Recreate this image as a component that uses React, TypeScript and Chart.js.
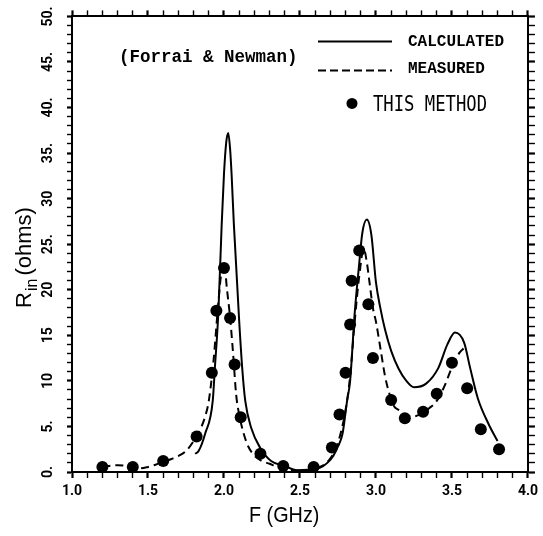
import React, { useEffect, useRef } from "react";
import { Chart, registerables } from "chart.js";

Chart.register(...registerables);

// ---- data ----
const calcF = [1.81, 1.833, 1.876, 1.926, 1.94, 1.963, 1.985, 2.0, 2.015, 2.028, 2.04, 2.05, 2.065, 2.1, 2.12, 2.14, 2.18, 2.24, 2.31, 2.4, 2.48, 2.55, 2.63, 2.68, 2.72, 2.75, 2.78, 2.81, 2.83, 2.86, 2.89, 2.91, 2.94, 2.97, 3.0, 3.03, 3.06, 3.1, 3.15, 3.2, 3.25, 3.33, 3.41, 3.47, 3.52, 3.58, 3.62, 3.67, 3.74, 3.8];
const calcR = [2.0, 2.3, 4.2, 7.8, 11.4, 17.5, 27.2, 32.7, 36.2, 37.2, 35.5, 32.7, 27.2, 16.6, 11.4, 7.8, 4.8, 2.6, 1.2, 0.65, 0.2, 0.25, 0.45, 1.0, 1.8, 2.8, 4.2, 7.8, 10.0, 17.4, 22.9, 26.2, 27.7, 26.0, 20.8, 17.9, 15.6, 13.3, 11.3, 10.0, 9.3, 9.7, 11.4, 14.0, 15.3, 14.2, 11.4, 8.1, 5.3, 3.4];

const measF = [1.2, 1.3, 1.4, 1.45, 1.5, 1.55, 1.6, 1.65, 1.7, 1.75, 1.8, 1.85, 1.88, 1.9, 1.93, 1.96, 1.98, 2.0, 2.02, 2.04, 2.06, 2.08, 2.1, 2.13, 2.16, 2.2, 2.25, 2.3, 2.35, 2.4, 2.45, 2.5, 2.55, 2.6, 2.65, 2.7, 2.75, 2.8, 2.83, 2.86, 2.89, 2.92, 2.94, 2.96, 2.98, 3.0, 3.03, 3.06, 3.09, 3.12, 3.15, 3.2, 3.25, 3.3, 3.35, 3.4, 3.45, 3.5, 3.55, 3.58];
const measR = [0.6, 0.75, 0.55, 0.4, 0.55, 0.8, 1.1, 1.4, 1.75, 2.3, 3.4, 4.9, 6.3, 7.8, 12, 18, 21.5, 23, 20, 17, 13, 8.5, 6.3, 4.2, 2.8, 1.8, 1.2, 0.9, 0.55, 0.35, 0.2, 0.15, 0.2, 0.4, 0.7, 1.5, 3.2, 6.8, 10.5, 16.5, 21.5, 24.5, 23, 20.5, 18, 16.5, 13.5, 10.5, 8.5, 7.2, 6.8, 6.2, 6.1, 6.4, 7.0, 7.8, 9.4, 11.5, 13.1, 13.6];

const dotF = [1.2, 1.4, 1.6, 1.82, 1.92, 1.95, 2.0, 2.04, 2.07, 2.11, 2.24, 2.39, 2.59, 2.71, 2.76, 2.8, 2.83, 2.84, 2.89, 2.95, 2.98, 3.1, 3.19, 3.31, 3.4, 3.5, 3.6, 3.69, 3.81];
const dotR = [0.55, 0.55, 1.2, 3.9, 10.9, 17.7, 22.4, 16.9, 11.8, 6.0, 2.0, 0.65, 0.55, 2.7, 6.3, 10.9, 16.2, 21.0, 24.3, 18.4, 12.5, 7.9, 5.9, 6.6, 8.6, 12.0, 9.2, 4.7, 2.5];

const xTickLabels = ["1.0", "1.5", "2.0", "2.5", "3.0", "3.5", "4.0"];
const yTickLabels = ["0.", "5.", "10", "15", "20", "25.", "30", "35.", "40.", "45.", "50."];
const legendLabels = ["CALCULATED", "MEASURED", "THIS METHOD"];
const noteText = "(Forrai & Newman)";
const xTitle = "F (GHz)";
const yTitleMain = "R";
const yTitleSub = "in";
const yTitleRest = "(ohms)";

const toXY = (xs: number[], ys: number[]) => xs.map((x, i) => ({ x, y: ys[i] }));

function drawText(ctx: CanvasRenderingContext2D, text: string, x: number, y: number, font: string, sx = 1) {
  ctx.save();
  ctx.translate(x, y);
  ctx.scale(sx, 1);
  ctx.font = font;
  ctx.textAlign = "left";
  ctx.textBaseline = "middle";
  ctx.fillStyle = "#000";
  ctx.fillText(text, 0, 0);
  ctx.restore();
}

const annotPlugin = {
  id: "annot",
  afterDraw(chart: any) {
    const ctx: CanvasRenderingContext2D = chart.ctx;
    const ca = chart.chartArea;
    const L = ca.left;
    const T = ca.top;
    ctx.save();
    // note
    drawText(ctx, noteText, L + 47, T + 41, "bold 17.5px 'Liberation Mono'");
    // legend: solid
    ctx.strokeStyle = "#000";
    ctx.lineWidth = 2;
    ctx.beginPath();
    ctx.moveTo(L + 246, T + 25);
    ctx.lineTo(L + 320, T + 25);
    ctx.stroke();
    drawText(ctx, legendLabels[0], L + 336, T + 26, "bold 16px 'Liberation Mono'");
    // legend: dashed
    ctx.setLineDash([8, 4]);
    ctx.beginPath();
    ctx.moveTo(L + 246, T + 54);
    ctx.lineTo(L + 320, T + 54);
    ctx.stroke();
    ctx.setLineDash([]);
    drawText(ctx, legendLabels[1], L + 336, T + 53, "bold 16px 'Liberation Mono'");
    // legend: dot
    ctx.fillStyle = "#000";
    ctx.beginPath();
    ctx.arc(L + 280, T + 87, 5.5, 0, Math.PI * 2);
    ctx.fill();
    drawText(ctx, legendLabels[2], L + 301, T + 89, "21px 'DejaVu Sans Mono'", 0.82);

    // x title
    drawText(ctx, xTitle, 249, 516, "22px 'Liberation Sans'", 0.9);

    // y title (rotated, with subscript)
    ctx.save();
    ctx.translate(25, 258);
    ctx.rotate(-Math.PI / 2);
    ctx.fillStyle = "#000";
    ctx.textBaseline = "middle";
    ctx.textAlign = "left";
    const fMain = "22px 'Liberation Sans'";
    const fSub = "16px 'Liberation Sans'";
    ctx.font = fMain;
    const wR = ctx.measureText(yTitleMain).width;
    const wRest = ctx.measureText(yTitleRest).width;
    ctx.font = fSub;
    const wSub = ctx.measureText(yTitleSub).width + 3;
    const total = wR + wSub + wRest;
    let cx = -total / 2;
    ctx.font = fMain;
    ctx.fillText(yTitleMain, cx, 0);
    cx += wR + 1;
    ctx.font = fSub;
    ctx.fillText(yTitleSub, cx, 8);
    cx += wSub;
    ctx.font = fMain;
    ctx.fillText(yTitleRest, cx, 0);
    ctx.restore();

    ctx.restore();
  },
};

const isMult = (v: number, step: number, base: number) => {
  const k = (v - base) / step;
  return Math.abs(k - Math.round(k)) < 1e-6;
};

export default function App() {
  const ref = useRef<HTMLCanvasElement | null>(null);
  useEffect(() => {
    if (!ref.current) return;
    const black = "#000";
    const chart = new Chart(ref.current, {
      type: "scatter",
      data: {
        datasets: [
          {
            label: legendLabels[0],
            data: toXY(calcF, calcR),
            showLine: true,
            borderColor: black,
            borderWidth: 2,
            pointRadius: 0,
            cubicInterpolationMode: "monotone",
          },
          {
            label: legendLabels[1],
            data: toXY(measF, measR),
            showLine: true,
            borderColor: black,
            borderWidth: 2,
            borderDash: [8, 5],
            pointRadius: 0,
            cubicInterpolationMode: "monotone",
          },
          {
            label: legendLabels[2],
            data: toXY(dotF, dotR),
            showLine: false,
            pointRadius: 6,
            pointBackgroundColor: black,
            pointBorderWidth: 0,
            borderColor: black,
            backgroundColor: black,
          },
        ],
      } as any,
      options: {
        animation: false,
        responsive: false,
        events: [],
        layout: { padding: { top: 16, right: 10, left: 0, bottom: 0 } },
        plugins: { legend: { display: false }, tooltip: { enabled: false } },
        scales: {
          x: {
            type: "linear",
            position: "bottom",
            min: 1,
            max: 4,
            afterFit: (s: any) => {
              s.height = 64;
            },
            afterBuildTicks: (s: any) => {
              const t = [];
              for (let i = 0; i <= 30; i++) t.push({ value: 1 + i / 10 });
              s.ticks = t;
            },
            ticks: {
              autoSkip: false,
              maxRotation: 0,
              minRotation: 0,
              padding: 5,
              color: black,
              font: { family: "Roboto", size: 14, weight: "bold" },
              callback: (v: any) => (isMult(v, 0.5, 1) ? xTickLabels[Math.round((v - 1) * 2)] : ""),
            },
            grid: {
              drawOnChartArea: false,
              drawTicks: true,
              tickLength: 6,
              tickColor: black,
              tickWidth: (c: any) => (c.tick && isMult(c.tick.value, 0.5, 1) ? 2.2 : 1.4),
            },
            border: { display: true, color: black, width: 2 },
          },
          x2: {
            type: "linear",
            position: "top",
            min: 1,
            max: 4,
            afterFit: (s: any) => {
              s.height = 0;
            },
            afterBuildTicks: (s: any) => {
              const t = [];
              for (let i = 0; i <= 30; i++) t.push({ value: 1 + i / 10 });
              s.ticks = t;
            },
            ticks: { display: false },
            grid: {
              drawOnChartArea: false,
              drawTicks: true,
              tickLength: 6,
              tickColor: black,
              tickWidth: (c: any) => (c.tick && isMult(c.tick.value, 0.5, 1) ? 2.2 : 1.4),
            },
            border: { display: true, color: black, width: 2 },
          },
          y: {
            type: "linear",
            position: "left",
            min: 0,
            max: 50,
            afterFit: (s: any) => {
              s.width = 72;
            },
            afterBuildTicks: (s: any) => {
              const t = [];
              for (let i = 0; i <= 50; i++) t.push({ value: i });
              s.ticks = t;
            },
            ticks: {
              autoSkip: false,
              minRotation: 90,
              maxRotation: 90,
              crossAlign: "center",
              padding: 8,
              color: black,
              font: { family: "Roboto", size: 14, weight: "bold" },
              callback: (v: any) => (isMult(v, 5, 0) ? yTickLabels[Math.round(v / 5)] : ""),
            },
            grid: {
              drawOnChartArea: false,
              drawTicks: true,
              tickLength: 5,
              tickColor: black,
              tickWidth: (c: any) => (c.tick && isMult(c.tick.value, 5, 0) ? 2.2 : 1.4),
            },
            border: { display: true, color: black, width: 2 },
          },
          y2: {
            type: "linear",
            position: "right",
            min: 0,
            max: 50,
            afterFit: (s: any) => {
              s.width = 0;
            },
            afterBuildTicks: (s: any) => {
              const t = [];
              for (let i = 0; i <= 50; i++) t.push({ value: i });
              s.ticks = t;
            },
            ticks: { display: false },
            grid: {
              drawOnChartArea: false,
              drawTicks: true,
              tickLength: 7,
              tickColor: black,
              tickWidth: (c: any) => (c.tick && isMult(c.tick.value, 5, 0) ? 2.2 : 1.4),
            },
            border: { display: true, color: black, width: 2 },
          },
        },
      } as any,
      plugins: [annotPlugin],
    });
    return () => chart.destroy();
  }, []);

  return (
    <div style={{ position: "fixed", left: 0, top: 0, width: 543, height: 536, background: "#fff" }}>
      <canvas ref={ref} width={543} height={536} style={{ display: "block", width: 543, height: 536 }} />
    </div>
  );
}
